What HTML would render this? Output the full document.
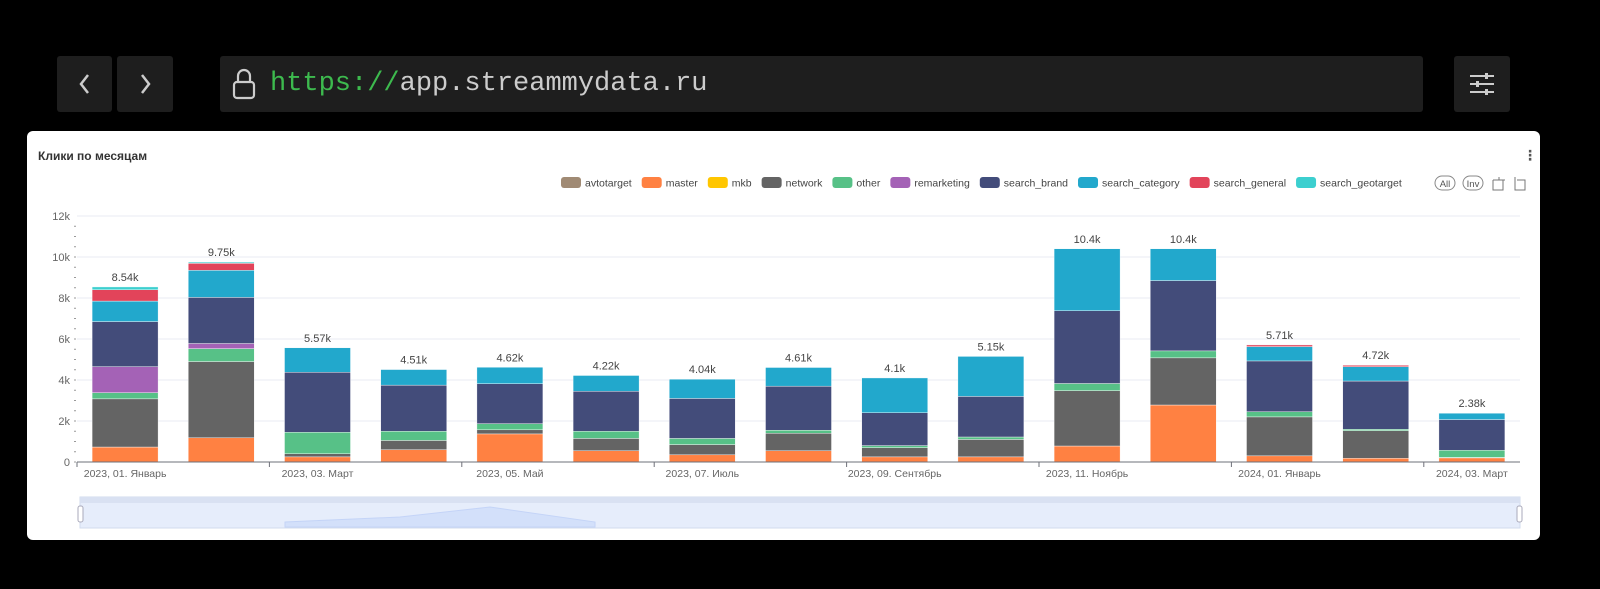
<!DOCTYPE html>
<html><head><meta charset="utf-8"><style>
body{margin:0;width:1600px;height:589px;background:#000;overflow:hidden;font-family:"Liberation Sans","DejaVu Sans",sans-serif;position:relative}
.btn{position:absolute;background:#1e1e1e;border-radius:3px}
#card{position:absolute;left:27px;top:131px;width:1513px;height:409px;background:#fff;border-radius:6px}
</style></head><body>
<div class="btn" style="left:57px;top:56px;width:55px;height:56px"><svg width="55" height="56"><path d="M31 19 L24 28 L31 37" stroke="#ccc" stroke-width="2.5" fill="none"/></svg></div>
<div class="btn" style="left:117px;top:56px;width:56px;height:56px"><svg width="56" height="56"><path d="M25 19 L32 28 L25 37" stroke="#ccc" stroke-width="2.5" fill="none"/></svg></div>
<div class="btn" style="left:220px;top:56px;width:1203px;height:56px">
<svg width="30" height="56" style="position:absolute;left:10px;top:0"><rect x="4" y="26" width="20" height="16" rx="3" fill="none" stroke="#ccc" stroke-width="2.2"/><path d="M8 26 V20 a6 6 0 0 1 12 0 V26" fill="none" stroke="#ccc" stroke-width="2.2"/></svg>
<div style="position:absolute;left:50px;top:12px;font-family:'Liberation Mono',monospace;font-size:27px;color:#ccc;line-height:32px"><span style="color:#3dba4e">https://</span>app.streammydata.ru</div></div>
<div class="btn" style="left:1454px;top:56px;width:56px;height:56px"><svg width="56" height="56"><g stroke="#ccc" stroke-width="2"><line x1="16" y1="20" x2="40" y2="20"/><line x1="16" y1="28" x2="40" y2="28"/><line x1="16" y1="36" x2="40" y2="36"/></g><g fill="#ccc"><rect x="31" y="17" width="3" height="6"/><rect x="22" y="25" width="3" height="6"/><rect x="31" y="33" width="3" height="6"/></g></svg></div>
<div id="card"></div>
<svg id="chart" width="1600" height="589" style="position:absolute;left:0;top:0"></svg>
<script>
const categories=["2023-01","2023-02","2023-03","2023-04","2023-05","2023-06","2023-07","2023-08","2023-09","2023-10","2023-11","2023-12","2024-01","2024-02","2024-03"];
const tickLabels=["2023, 01. Январь","2023, 03. Март","2023, 05. Май","2023, 07. Июль","2023, 09. Сентябрь","2023, 11. Ноябрь","2024, 01. Январь","2024, 03. Март"];
const totals=["8.54k","9.75k","5.57k","4.51k","4.62k","4.22k","4.04k","4.61k","4.1k","5.15k","10.4k","10.4k","5.71k","4.72k","2.38k"];
const seriesNames=["avtotarget","master","mkb","network","other","remarketing","search_brand","search_category","search_general","search_geotarget"];
const colors=["#a08a74","#ff8142","#ffc600","#646464","#57c187","#a462b6","#434c7a","#22a8cc","#e2445a","#3ccfcf"];
const avtotarget=[0,0,0,0,0,0,0,0,0,0,0,0,0,0,0];
const master=[0.73,1.18,0.25,0.6,1.37,0.55,0.35,0.55,0.25,0.25,0.78,2.78,0.3,0.18,0.2];
const mkb=[0,0,0,0,0,0,0,0,0,0,0,0,0,0,0];
const network=[2.35,3.72,0.15,0.45,0.2,0.6,0.5,0.85,0.45,0.85,2.7,2.3,1.9,1.35,0.02];
const other=[0.3,0.63,1.05,0.45,0.3,0.35,0.3,0.15,0.1,0.12,0.35,0.34,0.25,0.07,0.35];
const remarketing=[1.27,0.25,0,0,0,0,0,0,0,0,0,0,0,0,0];
const search_brand=[2.2,2.25,2.93,2.25,1.95,1.95,1.95,2.15,1.6,1.98,3.55,3.43,2.48,2.35,1.5];
const search_category=[1.0,1.32,1.19,0.76,0.8,0.77,0.94,0.91,1.7,1.95,3.02,1.55,0.7,0.7,0.31];
const search_general=[0.55,0.34,0,0,0,0,0,0,0,0,0,0,0.08,0.07,0];
const search_geotarget=[0.14,0.06,0,0,0,0,0,0,0,0,0,0,0,0,0];
const yTicks=[0,2,4,6,8,10,12];
const yTickLabels=["0","2k","4k","6k","8k","10k","12k"];
const series=[avtotarget,master,mkb,network,other,remarketing,search_brand,search_category,search_general,search_geotarget];
const NS="http://www.w3.org/2000/svg",svg=document.getElementById('chart');
function mk(t,a,p){const e=document.createElementNS(NS,t);for(const k in a)e.setAttribute(k,a[k]);(p||svg).appendChild(e);return e;}
const X0=77,X1=1520,Y0=462,Y1=216,YMAX=12;
const band=(X1-X0)/categories.length;
const y=v=>Y0-(v/YMAX)*(Y0-Y1);
const xc=i=>X0+band*(i+0.5);
// title
let t=mk('text',{x:38,y:160,'font-size':12,'font-weight':'bold',fill:'#333'});t.textContent="Клики по месяцам";

let m=mk('text',{x:1530,y:160,'font-size':14,'font-weight':'bold',fill:'#555','text-anchor':'middle'});m.textContent="⋮";

// grid + y axis
yTicks.forEach((v,i)=>{
 if(v>0){const g=mk('line',{x1:X0,x2:X1,y1:y(v),y2:y(v),stroke:'#e8ebf3'});}
 const l=mk('text',{x:70,y:y(v)+4,'font-size':11,fill:'#666','text-anchor':'end'});l.textContent=yTickLabels[i];
 
});
for(let v=0;v<YMAX;v+=0.5){const d=mk('line',{x1:74,x2:76,y1:y(v),y2:y(v),stroke:'#999'});}
// bars
categories.forEach((c,i)=>{
 let acc=0;const bw=66;
 series.forEach((s,k)=>{const v=s[i];if(v<=0)return;
  const r=mk('rect',{x:xc(i)-bw/2,y:y(acc+v),width:bw,height:y(acc)-y(acc+v),fill:colors[k],stroke:'#fff','stroke-width':0.4});
  acc+=v;});
 const lb=mk('text',{x:xc(i),y:y(acc)-6,'font-size':11,fill:'#444','text-anchor':'middle'});lb.textContent=totals[i];
 
});
// x axis
const ax=mk('line',{x1:X0,x2:X1,y1:Y0,y2:Y0,stroke:'#6e7079'});
for(let i=0;i<=categories.length;i+=2){const tk=mk('line',{x1:X0+band*i,x2:X0+band*i,y1:Y0,y2:Y0+5,stroke:'#6e7079'});}
tickLabels.forEach((s,j)=>{const l=mk('text',{x:xc(j*2),y:477,'font-size':10.5,fill:'#666','text-anchor':'middle'});l.textContent=s;
 });
// legend
const legW=[65,53,43,62,45,83,89,105,91,0];
let lx=561;
seriesNames.forEach((n,k)=>{
 const g=mk('g',{});
 mk('rect',{x:lx,y:177,width:20,height:11,rx:3,fill:colors[k]},g);
 const tx=mk('text',{x:lx+24,y:186.5,'font-size':10.5,fill:'#444'},g);tx.textContent=n;
 lx+=24+tx.getComputedTextLength()+10;
});
[["All",1445],["Inv",1473]].forEach(([s,x])=>{const g=mk('g',{});
 mk('rect',{x:x-10,y:176,width:20,height:14,rx:7,fill:'none',stroke:'#888'},g);const tt=mk('text',{x:x,y:187,'font-size':9.5,fill:'#555','text-anchor':'middle'},g);tt.textContent=s;});
mk('path',{d:'M1493 180 h12 M1499 177 v3 M1493 180 v10 h10 v-10',fill:'none',stroke:'#777'});
mk('path',{d:'M1517 180 h8 v10 h-10 v-10 M1515 177 v3',fill:'none',stroke:'#777'});
// datazoom
const dz=mk('g',{});
mk('rect',{x:80,y:497,width:1440,height:31,fill:'#e6edfb',stroke:'#d2dbee'},dz);
mk('rect',{x:80,y:497,width:1440,height:6,fill:'#d9e1f2'},dz);
mk('path',{d:'M285 527 L285 522 L400 517 L490 507 L595 522 L595 527 Z',fill:'#d3e0fa',stroke:'#c4d4f7'},dz);
mk('rect',{x:78,y:506,width:5,height:16,rx:2,fill:'#fff',stroke:'#aab'},dz);
mk('rect',{x:1517,y:506,width:5,height:16,rx:2,fill:'#fff',stroke:'#aab'},dz);
</script></body></html>
